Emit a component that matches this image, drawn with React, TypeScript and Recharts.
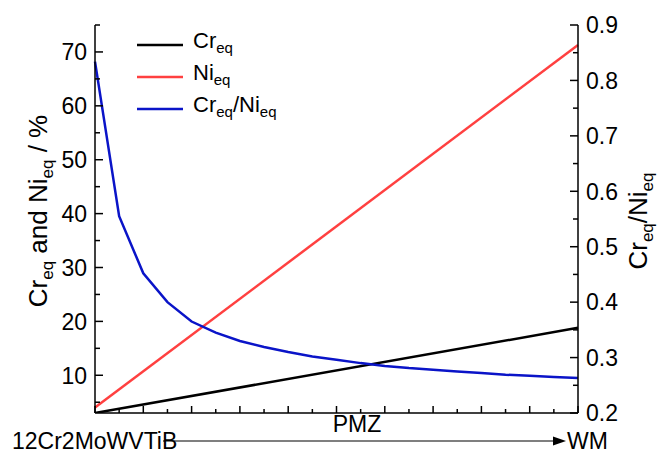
import React from "react";
import { LineChart, Line, XAxis, YAxis } from "recharts";

// positions along the traverse, base metal (0) -> weld metal (10)
const stations = [0, 0.5, 1, 1.5, 2, 2.5, 3, 3.5, 4, 4.5, 5, 5.5, 6, 6.5, 7, 7.5, 8, 8.5, 9, 9.5, 10];
const ratioValues = [
	0.834, 0.555, 0.452, 0.4, 0.365, 0.345, 0.33, 0.319, 0.31, 0.302, 0.296,
	0.29, 0.285, 0.281, 0.278, 0.275, 0.272, 0.269, 0.267, 0.265, 0.263,
];
const lineEnds = [0, 10];
const crEqValues = [3.0, 18.8];
const niEqValues = [4.0, 71.3];

const leftTicks = [5, 10, 15, 20, 25, 30, 35, 40, 45, 50, 55, 60, 65, 70, 75];
const rightTicks = [0.2, 0.25, 0.3, 0.35, 0.4, 0.45, 0.5, 0.55, 0.6, 0.65, 0.7, 0.75, 0.8, 0.85, 0.9];

const ratioData = stations.map((x, i) => ({ x, v: ratioValues[i] }));
const crData = lineEnds.map((x, i) => ({ x, v: crEqValues[i] }));
const niData = lineEnds.map((x, i) => ({ x, v: niEqValues[i] }));

const FONT = "'Liberation Sans', Arial, sans-serif";
const RED = "#ff4040";
const BLUE = "#0a14c8";

const LeftTick = (p: any) => {
	const { x, y, payload } = p;
	const v = payload.value;
	const major = v % 10 === 0;
	return (
		<g>
			<line x1={x} x2={x + (major ? 8 : 5)} y1={y} y2={y} stroke="#000" strokeWidth={1.5} />
			{major && (
				<text x={x - 8} y={y} dy="0.36em" textAnchor="end" fontSize={23} fontFamily={FONT} fill="#000">
					{v}
				</text>
			)}
		</g>
	);
};

const RightTick = (p: any) => {
	const { x, y, payload } = p;
	const v = payload.value;
	const major = Math.round(v * 100) % 10 === 0;
	return (
		<g>
			<line x1={x} x2={x - (major ? 8 : 5)} y1={y} y2={y} stroke="#000" strokeWidth={1.5} />
			{major && (
				<text x={x + 8} y={y} dy="0.36em" textAnchor="start" fontSize={23} fontFamily={FONT} fill="#000">
					{v.toFixed(1)}
				</text>
			)}
		</g>
	);
};

const BottomTick = (p: any) => {
	const { x, y, payload } = p;
	const major = payload.value % 1 === 0;
	return <line x1={x} x2={x} y1={y} y2={y - (major ? 7 : 4)} stroke="#000" strokeWidth={1.5} />;
};

const LeftTitle = (p: any) => {
	const vb = p.viewBox;
	const cx = 38;
	const cy = vb.y + vb.height / 2 - 8;
	return (
		<text
			x={cx}
			y={cy}
			dy="0.36em"
			textAnchor="middle"
			transform={`rotate(-90, ${cx}, ${cy})`}
			fontSize={26}
			fontFamily={FONT}
			fill="#000"
		>
			Cr<tspan fontSize={17} dy={6}>eq</tspan>
			<tspan dy={-6}> and Ni</tspan>
			<tspan fontSize={17} dy={6}>eq</tspan>
			<tspan dy={-6}> / %</tspan>
		</text>
	);
};

const RightTitle = (p: any) => {
	const vb = p.viewBox;
	const cx = 638;
	const cy = vb.y + vb.height / 2 + 2;
	return (
		<text
			x={cx}
			y={cy}
			dy="0.36em"
			textAnchor="middle"
			transform={`rotate(-90, ${cx}, ${cy})`}
			fontSize={26}
			fontFamily={FONT}
			fill="#000"
		>
			Cr<tspan fontSize={17} dy={6}>eq</tspan>
			<tspan dy={-6}>/Ni</tspan>
			<tspan fontSize={17} dy={6}>eq</tspan>
		</text>
	);
};

const BottomTitle = () => (
	<g fontFamily={FONT} fill="#000">
		<text x={12} y={449} fontSize={23}>12Cr2MoWVTiB</text>
		<line x1={163} x2={556} y1={441} y2={441} stroke="#000" strokeWidth={1.2} />
		<path d="M 566 441 L 553 436.5 L 553 445.5 Z" fill="#000" />
		<text x={357} y={432} fontSize={23} textAnchor="middle">PMZ</text>
		<text x={567} y={449} fontSize={23}>WM</text>
	</g>
);

const legendItems = [
	{ name: "Cr", sub: "eq", rest: null, color: "#000" },
	{ name: "Ni", sub: "eq", rest: null, color: RED },
	{ name: "Cr", sub: "eq", rest: "/Ni", color: BLUE },
];

const LegendBox = () => (
	<div
		style={{
			position: "absolute",
			left: 137,
			top: 29,
			fontFamily: FONT,
			fontSize: 22,
			color: "#000",
			lineHeight: "32px",
			pointerEvents: "none",
		}}
	>
		{legendItems.map((it, i) => (
			<div key={i} style={{ display: "flex", alignItems: "center", height: 32 }}>
				<svg width={56} height={10}>
					<line x1={0} x2={46} y1={5} y2={5} stroke={it.color} strokeWidth={2.5} />
				</svg>
				<span style={{ lineHeight: "22px" }}>
					{it.name}
					<sub style={{ fontSize: 15 }}>{it.sub}</sub>
					{it.rest}
					{it.rest && <sub style={{ fontSize: 15 }}>eq</sub>}
				</span>
			</div>
		))}
	</div>
);

export default function App() {
	return (
		<div style={{ position: "absolute", left: 0, top: 0, width: 661, height: 458, background: "#fff" }}>
			<LineChart width={661} height={458} margin={{ top: 25, right: 0, bottom: 0, left: 0 }}>
				<XAxis
					xAxisId="b"
					dataKey="x"
					type="number"
					domain={[0, 10]}
					ticks={stations}
					interval={0}
					height={45}
					tickSize={0}
					tickMargin={0}
					tickLine={false}
					tick={<BottomTick />}
					axisLine={{ stroke: "#000", strokeWidth: 1.5 }}
					label={{ content: BottomTitle }}
				/>
				<XAxis
					xAxisId="t"
					orientation="top"
					dataKey="x"
					type="number"
					domain={[0, 10]}
					height={0}
					tick={false}
					tickLine={false}
					axisLine={{ stroke: "#000", strokeWidth: 1.5 }}
				/>
				<YAxis
					yAxisId="left"
					orientation="left"
					width={95}
					domain={[3, 75]}
					allowDataOverflow
					ticks={leftTicks}
					interval={0}
					tickSize={0}
					tickMargin={0}
					tickLine={false}
					tick={<LeftTick />}
					axisLine={{ stroke: "#000", strokeWidth: 1.5 }}
					label={{ content: LeftTitle }}
				/>
				<YAxis
					yAxisId="right"
					orientation="right"
					width={83}
					domain={[0.2, 0.9]}
					allowDataOverflow
					ticks={rightTicks}
					interval={0}
					tickSize={0}
					tickMargin={0}
					tickLine={false}
					tick={<RightTick />}
					axisLine={{ stroke: "#000", strokeWidth: 1.5 }}
					label={{ content: RightTitle }}
				/>
				<Line
					xAxisId="b"
					yAxisId="left"
					data={niData}
					dataKey="v"
					stroke={RED}
					strokeWidth={2.5}
					dot={false}
					isAnimationActive={false}
				/>
				<Line
					xAxisId="b"
					yAxisId="left"
					data={crData}
					dataKey="v"
					stroke="#000"
					strokeWidth={2.5}
					dot={false}
					isAnimationActive={false}
				/>
				<Line
					xAxisId="b"
					yAxisId="right"
					data={ratioData}
					dataKey="v"
					stroke={BLUE}
					strokeWidth={2.5}
					dot={false}
					isAnimationActive={false}
				/>
			</LineChart>
			<LegendBox />
		</div>
	);
}
